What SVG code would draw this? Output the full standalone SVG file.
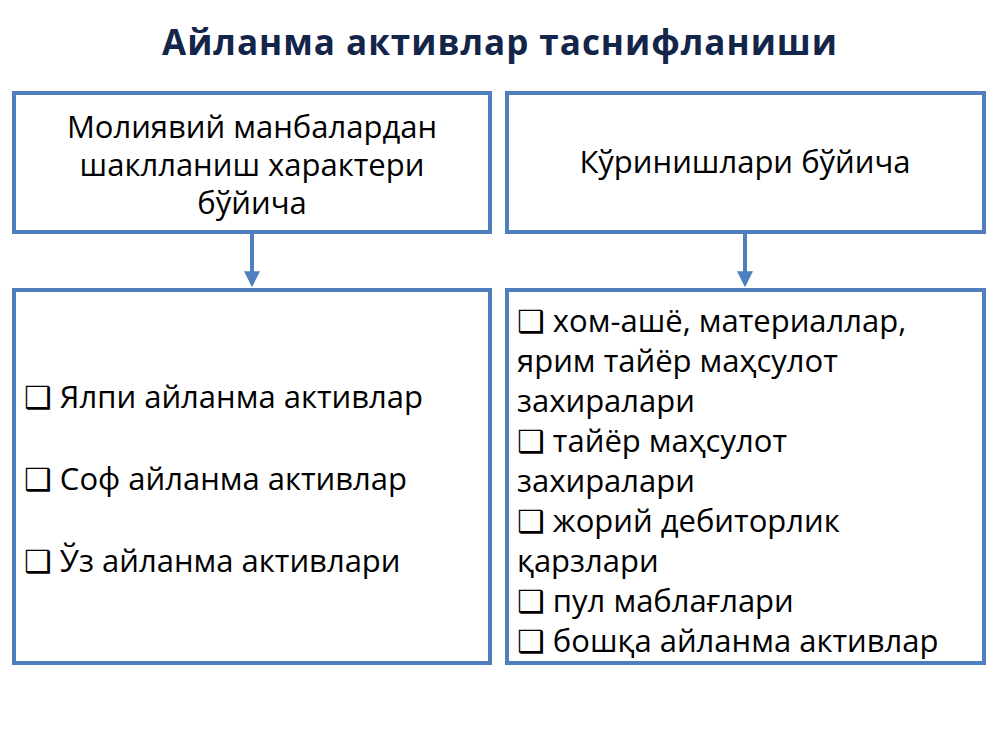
<svg xmlns="http://www.w3.org/2000/svg" width="1000" height="750" viewBox="0 0 1000 750">
<style>
.b{fill:#fff;stroke:#4f7fbf;stroke-width:4}
.t{font-family:"Open Sans","DejaVu Sans",sans-serif;font-size:31px;fill:#000}
.c{text-anchor:middle}
.k{font-family:"DejaVu Sans",sans-serif}
</style>
<defs><marker id="a" viewBox="0 0 10 10" refX="8" refY="5" markerWidth="4" markerHeight="4" orient="auto"><path d="M0,0L10,5L0,10z" fill="#4f7fbf"/></marker></defs>
<rect width="1000" height="750" fill="#fff"/>
<text x="500" y="55" text-anchor="middle" font-family="'Open Sans',sans-serif" font-weight="bold" font-size="35" letter-spacing="1" fill="#14254a">Айланма активлар таснифланиши</text>
<g id="n1"><rect class="b" x="14" y="93" width="476" height="139"/>
<text class="t c" x="252" y="138">Молиявий манбалардан</text><text class="t c" x="252" y="176">шаклланиш характери</text><text class="t c" x="252" y="214">бўйича</text></g>
<g id="n2"><rect class="b" x="507" y="93" width="477" height="139"/>
<text class="t c" x="745" y="173">Кўринишлари бўйича</text></g>
<g id="n3"><rect class="b" x="14" y="290" width="476" height="373"/>
<text class="t" x="24" y="408"><tspan class="k">❑</tspan> Ялпи айланма активлар</text>
<text class="t" x="24" y="490"><tspan class="k">❑</tspan> Соф айланма активлар</text>
<text class="t" x="24" y="572"><tspan class="k">❑</tspan> Ўз айланма активлари</text></g>
<g id="n4"><rect class="b" x="507" y="290" width="477" height="373"/>
<g class="t"><text x="517" y="332"><tspan class="k">❑</tspan> хом-ашё,  материаллар,</text>
<text x="517" y="372">ярим тайёр маҳсулот</text>
<text x="517" y="412">захиралари</text>
<text x="517" y="452"><tspan class="k">❑</tspan> тайёр маҳсулот</text>
<text x="517" y="492">захиралари</text>
<text x="517" y="532"><tspan class="k">❑</tspan> жорий дебиторлик</text>
<text x="517" y="572">қарзлари</text>
<text x="517" y="612"><tspan class="k">❑</tspan> пул маблағлари</text>
<text x="517" y="652"><tspan class="k">❑</tspan> бошқа айланма активлар</text></g></g>
<g id="connectors" stroke="#4f7fbf" stroke-width="4" marker-end="url(#a)">
<line x1="252" y1="234" x2="252" y2="284"/><line x1="745" y1="234" x2="745" y2="284"/></g>
</svg>
